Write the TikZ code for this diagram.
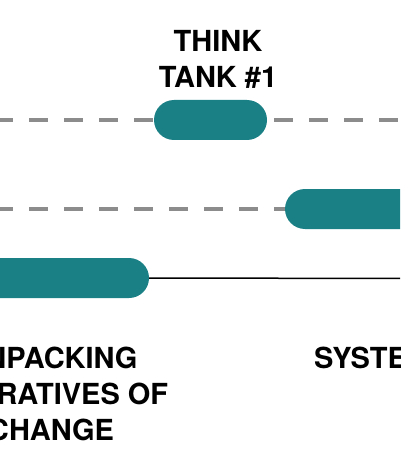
\documentclass[tikz,border=0pt]{standalone}
\usepackage{fontspec}
\setmainfont{TeX Gyre Heros}

\definecolor{tankteal}{RGB}{27,128,134}
\definecolor{dashgray}{RGB}{140,140,140}

\tikzset{
    pill/.style={fill=tankteal, rounded corners=20pt, minimum height=40pt, inner sep=0pt},
    dashline/.style={draw=dashgray, line width=3.5pt, dash pattern=on 18.5pt off 16.5pt},
    stagetext/.style={font=\bfseries\fontsize{29}{36}\selectfont, align=center, inner sep=0pt}
}

\begin{document}
\begin{tikzpicture}[x=1pt,y=-1pt]

        \useasboundingbox (0,0) rectangle (400,457);
        \clip (0,0) rectangle (400,457);

                % rows of the timeline
                    \coordinate (row1-start) at (-5.7,120);
                    \coordinate (row1-end) at (410,120);
                    \coordinate (row2-start) at (-5.7,209);
                    \coordinate (row2-end) at (410,209);
                    \coordinate (row3-end) at (410,278.5);

                    \draw[dashline] (row1-start) -- (row1-end);
                    \draw[dashline] (row2-start) -- (row2-end);

                    \node[pill, minimum width=113pt] (tank1) at (210.5,120) {};
                    \node[pill, minimum width=200pt] (systems) at (385,209) {};
                    \node[pill, minimum width=209pt] (unpack) at (44.5,278) {};

                    \draw[line width=1.5pt] (unpack.east) -- (row3-end);

                % titles (base anchor sits on the last line)
                    \node[stagetext, anchor=base] (tank1-title) at (218,88) {THINK\\TANK \#1};
                    \node[stagetext, anchor=base] (unpack-title) at (51,440) {UNPACKING\\NARRATIVES OF\\CHANGE};
                    \node[stagetext, anchor=base west] (systems-title) at (314,368) {SYSTEMS};

\end{tikzpicture}
\end{document}
